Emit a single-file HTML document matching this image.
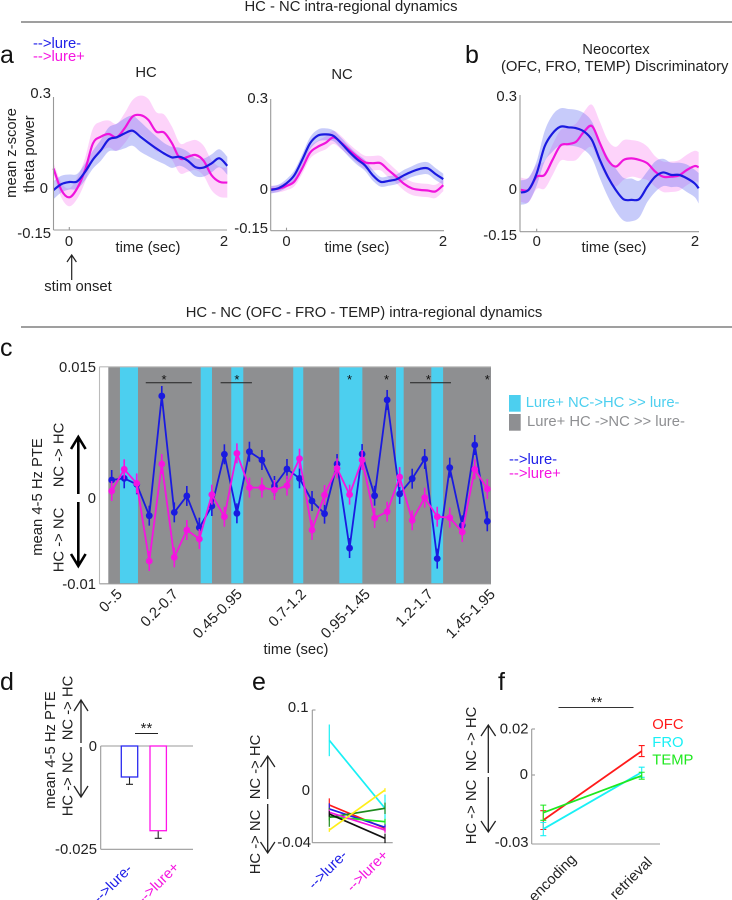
<!DOCTYPE html>
<html lang="en">
<head>
<meta charset="utf-8">
<title>HC - NC intra-regional dynamics</title>
<style>
html,body{margin:0;padding:0;background:#fff;width:732px;height:900px;overflow:hidden}
svg{display:block;filter:blur(.3px)}
text{font-family:"Liberation Sans",sans-serif;font-size:14.8px;fill:#222}
.e{text-anchor:end}.m{text-anchor:middle}
.pl{font-size:25px;fill:#111}
.bl{fill:#2020e8}.mg{fill:#f514e0}
</style>
</head>
<body>
<svg id="fig" xmlns="http://www.w3.org/2000/svg" width="732" height="900" viewBox="0 0 732 900">
<g id="layer-marks"></g>

<g >
<text x="351" y="11" class="m">HC - NC intra-regional dynamics</text>
<line x1="21" x2="732" y1="22" y2="22" stroke="#666" stroke-width="1.2"/>
<text x="364" y="317" class="m">HC - NC (OFC - FRO - TEMP) intra-regional dynamics</text>
<line x1="21" x2="732" y1="327" y2="327" stroke="#666" stroke-width="1.2"/>
</g>

<g>
<text x="0" y="63" class="pl">a</text>
<text x="465" y="63" class="pl">b</text>
<text x="0" y="356" class="pl">c</text>
<text x="0" y="690" class="pl">d</text>
<text x="252" y="690" class="pl">e</text>
<text x="498" y="690" class="pl">f</text>
</g>

<g>
<text x="33" y="48" class="bl">--&gt;lure-</text>
<text x="33" y="61" class="mg">--&gt;lure+</text>
<text x="146" y="77" class="m">HC</text>
<text x="342" y="79" class="m">NC</text>
<text transform="translate(16,153) rotate(-90)" class="m">mean z-score</text>
<text transform="translate(34,154) rotate(-90)" class="m">theta power</text>
<text x="51" y="98" class="e">0.3</text>
<text x="48" y="193" class="e">0</text>
<text x="51" y="238" class="e">-0.15</text>
<text x="69" y="246" class="m">0</text>
<text x="224" y="246" class="m">2</text>
<text x="148" y="252" class="m">time (sec)</text>
<text x="78" y="291" class="m">stim onset</text>
<path d="M71.7 280V256M67 262l4.7-7 4.7 7" fill="none" stroke="#222" stroke-width="1.2"/>
<text x="268" y="103" class="e">0.3</text>
<text x="268" y="194" class="e">0</text>
<text x="268" y="233" class="e">-0.15</text>
<text x="286.5" y="246" class="m">0</text>
<text x="443" y="246" class="m">2</text>
<text x="357" y="252" class="m">time (sec)</text>
</g>

<g>
<text x="616" y="54" class="m">Neocortex</text>
<text x="501" y="71">(OFC, FRO, TEMP) Discriminatory</text>
<text x="517" y="101" class="e">0.3</text>
<text x="517" y="194" class="e">0</text>
<text x="517" y="240" class="e">-0.15</text>
<text x="536.7" y="246" class="m">0</text>
<text x="695" y="246" class="m">2</text>
<text x="614" y="252" class="m">time (sec)</text>
</g>

<g>
<text x="96" y="372" class="e">0.015</text>
<text x="96" y="503" class="e">0</text>
<text x="96" y="589" class="e">-0.01</text>
<text transform="translate(42,497) rotate(-90)" class="m">mean 4-5 Hz PTE</text>
<text transform="translate(63.5,455) rotate(-90)" class="m">NC -&gt; HC</text>
<text transform="translate(63.5,540) rotate(-90)" class="m">HC -&gt; NC</text>
<path d="M78.3 494V437M71 449l7.3-12 7.3 12" fill="none" stroke="#000" stroke-width="2.6"/>
<path d="M78.3 502V566M71 554l7.3 12 7.3-12" fill="none" stroke="#000" stroke-width="2.6"/>
<text transform="translate(123,595) rotate(-45)" class="e">0-.5</text>
<text transform="translate(179,595) rotate(-45)" class="e">0.2-0.7</text>
<text transform="translate(243,595) rotate(-45)" class="e">0.45-0.95</text>
<text transform="translate(307,595) rotate(-45)" class="e">0.7-1.2</text>
<text transform="translate(371,595) rotate(-45)" class="e">0.95-1.45</text>
<text transform="translate(434,595) rotate(-45)" class="e">1.2-1.7</text>
<text transform="translate(496,595) rotate(-45)" class="e">1.45-1.95</text>
<text x="296" y="654" class="m">time (sec)</text>
<rect x="509" y="395" width="11.7" height="16.7" fill="#4ccfef"/>
<rect x="509" y="414" width="11.7" height="16.7" fill="#8e8f92"/>
<text x="525.7" y="407" style="fill:#4ccfef">Lure+ NC-&gt;HC &gt;&gt; lure-</text>
<text x="527" y="426" style="fill:#8e8f92">Lure+ HC -&gt;NC &gt;&gt; lure-</text>
<text x="509" y="464" class="bl">--&gt;lure-</text>
<text x="509" y="478" class="mg">--&gt;lure+</text>
</g>

<g>
<text x="97" y="751" class="e">0</text>
<text x="97" y="854" class="e">-0.025</text>
<text transform="translate(55,750) rotate(-90)" class="m">mean 4-5 Hz PTE</text>
<text transform="translate(72.5,708) rotate(-90)" class="m">NC -&gt; HC</text>
<text transform="translate(72.5,784) rotate(-90)" class="m">HC -&gt; NC</text>
<path d="M81 743V701M74 711l7-11 7 11" fill="none" stroke="#222" stroke-width="1.3"/>
<path d="M81 747V796M74 786l7 11 7-11" fill="none" stroke="#222" stroke-width="1.3"/>
<text x="146.5" y="733" class="m" style="font-size:15px">**</text>
<line x1="135" x2="158" y1="733.5" y2="733.5" stroke="#222"/>
<text transform="translate(133,870) rotate(-45)" class="e bl">--&gt;lure-</text>
<text transform="translate(180,868) rotate(-45)" class="e mg">--&gt;lure+</text>
</g>

<g>
<text x="308.5" y="712" class="e">0.1</text>
<text x="310" y="795" class="e">0</text>
<text x="311" y="847" class="e">-0.04</text>
<text transform="translate(260,767) rotate(-90)" class="m">NC -&gt; HC</text>
<text transform="translate(260,842) rotate(-90)" class="m">HC -&gt; NC</text>
<path d="M267.7 799V757M260.5 767l7.2-11 7.2 11" fill="none" stroke="#222" stroke-width="1.3"/>
<path d="M267.7 804V852M260.5 842l7.2 11 7.2-11" fill="none" stroke="#222" stroke-width="1.3"/>
<text transform="translate(348,856) rotate(-45)" class="e bl">--&gt;lure-</text>
<text transform="translate(389,856) rotate(-45)" class="e mg">--&gt;lure+</text>
</g>

<g>
<text x="528.5" y="733.5" class="e">0.02</text>
<text x="528" y="779" class="e">0</text>
<text x="528.5" y="847" class="e">-0.03</text>
<text transform="translate(476,739) rotate(-90)" class="m">NC -&gt; HC</text>
<text transform="translate(476,812) rotate(-90)" class="m">HC -&gt; NC</text>
<path d="M488.3 773V726M481 736l7.3-11 7.3 11" fill="none" stroke="#222" stroke-width="1.3"/>
<path d="M488.3 777V831M481 821l7.3 11 7.3-11" fill="none" stroke="#222" stroke-width="1.3"/>
<text x="596.5" y="707" class="m" style="font-size:15px">**</text>
<line x1="558.5" x2="633.5" y1="707.5" y2="707.5" stroke="#333"/>
<text x="652.3" y="729" style="fill:#ff1a1a">OFC</text>
<text x="652.3" y="747" style="fill:#19f0f5">FRO</text>
<text x="652.3" y="764.5" style="fill:#1ee81e">TEMP</text>
<text transform="translate(577,860) rotate(-45)" class="e">encoding</text>
<text transform="translate(653,863) rotate(-45)" class="e">retrieval</text>
</g>
</svg>

<script>
/* ---------- panels a / b : theta power time courses ---------- */
const timeAB = [-0.2,-0.1,0,0.1,0.2,0.3,0.4,0.5,0.6,0.7,0.8,0.9,1,1.1,1.2,1.3,1.4,1.5,1.6,1.7,1.8,1.9,2];
const timeB = [-0.2,-0.1,0,0.1,0.2,0.3,0.4,0.5,0.6,0.7,0.8,0.9,1,1.1,1.2,1.3,1.4,1.5,1.6,1.7,1.8,1.9,2,2.05];

const hcLureMinus = [-0.008,0.012,0.019,0.021,0.053,0.094,0.125,0.161,0.168,0.181,0.19,0.17,0.15,0.131,0.114,0.101,0.103,0.09,0.068,0.067,0.081,0.098,0.073];
const hcLureMinusErr = [0.03,0.028,0.025,0.025,0.028,0.03,0.035,0.04,0.045,0.05,0.05,0.05,0.045,0.04,0.035,0.035,0.03,0.03,0.03,0.03,0.03,0.03,0.03];
const hcLurePlus = [0.064,-0.008,-0.032,-0.002,0.059,0.148,0.17,0.179,0.168,0.198,0.237,0.242,0.226,0.187,0.184,0.148,0.098,0.103,0.109,0.09,0.042,0.02,0.017];
const hcLurePlusErr = [0.02,0.025,0.03,0.035,0.04,0.05,0.05,0.045,0.045,0.05,0.055,0.065,0.07,0.065,0.06,0.055,0.05,0.05,0.05,0.05,0.05,0.05,0.05];

const ncLureMinus = [-0.002,0.004,0.02,0.047,0.098,0.153,0.179,0.183,0.178,0.153,0.125,0.1,0.08,0.047,0.025,0.028,0.033,0.047,0.059,0.068,0.07,0.051,0.034];
const ncLureMinusErr = [0.012,0.012,0.014,0.016,0.018,0.02,0.02,0.02,0.018,0.018,0.018,0.018,0.018,0.018,0.016,0.016,0.016,0.018,0.018,0.02,0.02,0.02,0.018];
const ncLurePlus = [0,0.002,0.011,0.026,0.07,0.122,0.142,0.155,0.173,0.155,0.131,0.109,0.09,0.087,0.087,0.064,0.042,0.018,0.003,-0.002,-0.004,-0.007,0.014];
const ncLurePlusErr = [0.012,0.012,0.014,0.016,0.018,0.02,0.02,0.022,0.022,0.022,0.02,0.02,0.022,0.024,0.024,0.024,0.022,0.022,0.022,0.022,0.022,0.022,0.02];

const bLureMinus = [-0.014,-0.004,0.049,0.137,0.18,0.202,0.2,0.197,0.186,0.158,0.093,0.038,-0.005,-0.036,-0.038,-0.035,0.005,0.038,0.052,0.044,0.044,0.033,0.016,0];
const bLureMinusErr = [0.04,0.04,0.04,0.05,0.06,0.06,0.06,0.06,0.06,0.06,0.06,0.065,0.07,0.07,0.07,0.06,0.05,0.05,0.045,0.04,0.04,0.045,0.045,0.05];
const bLurePlus = [-0.005,-0.005,0.038,0.044,0.093,0.14,0.145,0.153,0.186,0.204,0.148,0.093,0.071,0.093,0.098,0.093,0.082,0.055,0.038,0.038,0.042,0.06,0.073,0.069];
const bLurePlusErr = [0.04,0.04,0.04,0.045,0.05,0.05,0.055,0.06,0.065,0.07,0.07,0.065,0.065,0.065,0.06,0.06,0.055,0.05,0.05,0.05,0.05,0.05,0.05,0.05];

/* ---------- panel c : PTE per time bin (units of 1e-3) ---------- */
const pteBins = [0,1,2,3,4,5,6,7,8,9,10,11,12,13,14,15,16,17,18,19,20,21,22,23,24,25,26,27,28,29,30];
const pteLureMinus = [1.96,2.15,1.46,-2.15,11.64,-1.77,0.12,-3.53,-1.04,4.92,-1.88,5.22,4.26,1.27,3.23,2.15,-0.46,-1.92,3.8,-5.88,4.95,0.15,11.18,0.35,2.11,4.38,-7.1,3.38,-3.26,5.99,-2.8];
const pteLurePlus = [0.69,3.19,1.57,-7.37,3.8,-6.95,-3.8,-4.84,0.27,-2.27,5.03,1.08,1.08,0.81,1.31,4.42,-3.8,0.23,3.3,0.27,4.26,-2.42,-1.69,2.3,-2.69,-0.08,-2.27,-2.38,-4.03,3.19,0.92];
const pteErr = [1.15];
const cyanBandStart = [0.66,7.11,9.55,14.5,18.18,22.71,25.53];
const cyanBandEnd = [2.1,8.01,10.51,15.3,20.02,23.32,26.47];
const sigBarStart = [2.72,8.7,23.83];
const sigBarEnd = [6.4,11.2,27.1];
const sigStarBins = [4.18,10,19,21.95,25.3,30];

/* ---------- panel d : bars ---------- */
const dCategories = ['lure-minus','lure-plus'];
const dValues = [-0.0075,-0.0205];
const dErrors = [0.00177,0.00184];

/* ---------- panel e : paired lines per region ---------- */
const eSeriesNames = ['cyan','red','blue','lime','dark-green','magenta','black','yellow'];
const eLeft = [0.068,-0.0002,-0.0044,-0.0125,-0.0132,-0.0079,-0.0097,-0.0266];
const eRight = [-0.0037,-0.0248,-0.0237,-0.0178,-0.0037,-0.0266,-0.0354,0.0156];
const eLeftErr = [0.0167,0.007,0.006,0.004,0.01,0.003,0.003,0.002];
const eRightErr = [0.0145,0.004,0.004,0.003,0.006,0.003,0.005,0.002];

/* ---------- panel f : encoding vs retrieval ---------- */
const fSeriesNames = ['ofc','fro','temp'];
const fEncoding = [-0.0196,-0.0235,-0.0164];
const fRetrieval = [0.0104,0.0012,-0.0003];
const fEncodingErr = [0.0041,0.0029,0.0033];
const fRetrievalErr = [0.0024,0.0022,0.0015];

const NS = 'http://www.w3.org/2000/svg';
const marks = document.getElementById('layer-marks');
function mk(tag, attrs, parent) {
  const el = document.createElementNS(NS, tag);
  for (const k in attrs) el.setAttribute(k, attrs[k]);
  (parent || marks).appendChild(el);
  return el;
}
function spline(pts) {
  let d = 'M' + pts[0][0].toFixed(2) + ' ' + pts[0][1].toFixed(2);
  for (let i = 0; i < pts.length - 1; i++) {
    const p0 = pts[Math.max(i - 1, 0)], p1 = pts[i], p2 = pts[i + 1], p3 = pts[Math.min(i + 2, pts.length - 1)];
    d += 'C' + (p1[0] + (p2[0] - p0[0]) / 6).toFixed(2) + ' ' + (p1[1] + (p2[1] - p0[1]) / 6).toFixed(2) + ' '
      + (p2[0] - (p3[0] - p1[0]) / 6).toFixed(2) + ' ' + (p2[1] - (p3[1] - p1[1]) / 6).toFixed(2) + ' '
      + p2[0].toFixed(2) + ' ' + p2[1].toFixed(2);
  }
  return d;
}
function axisL(name, x1, y1, x2, y2, color) {
  const l = mk('line', {x1: x1, y1: y1, x2: x2, y2: y2, stroke: color || '#999', 'stroke-width': 1.1});
  
  
}
function band(name, times, vals, errs, sx, sy, fill) {
  const up = times.map((t, i) => [sx(t), sy(vals[i] + errs[i])]);
  const dn = times.map((t, i) => [sx(t), sy(vals[i] - errs[i])]).reverse();
  const d = spline(up) + 'L' + spline(dn).slice(1) + 'Z';
  const p = mk('path', {d: d, fill: fill, stroke: 'none'});
  
  
}
function curve(name, times, vals, sx, sy, color) {
  const d = spline(times.map((t, i) => [sx(t), sy(vals[i])]));
  const p = mk('path', {d: d, fill: 'none', stroke: color, 'stroke-width': 2.2});
  
  
}
const BLUE = '#1a1ae0', MAG = '#f014dc';
const BLUEB = 'rgba(100,110,240,.36)', MAGB = 'rgba(250,110,240,.3)';

function timePanel(prefix, times, minus, minusErr, plus, plusErr, x0, xs, y0, ys, axX, axTop, axBottom, axRight) {
  const sx = t => x0 + xs * t;
  const sy = v => y0 - ys * v;
  band(prefix + '-lure-plus-band', times, plus, plusErr, sx, sy, MAGB);
  band(prefix + '-lure-minus-band', times, minus, minusErr, sx, sy, BLUEB);
  curve(prefix + '-lure-plus-line', times, plus, sx, sy, MAG);
  curve(prefix + '-lure-minus-line', times, minus, sx, sy, BLUE);
  axisL(prefix + '-y-axis', axX, axTop, axX, axBottom);
  axisL(prefix + '-x-axis', axX, axBottom, axRight, axBottom);
  axisL(prefix + '-x-tick-0', sx(0), axBottom, sx(0), axBottom - 3);
}
timePanel('hc', timeAB, hcLureMinus, hcLureMinusErr, hcLurePlus, hcLurePlusErr, 69.3, 79, 187.7, 300, 53.5, 97, 230, 227);
timePanel('nc', timeAB, ncLureMinus, ncLureMinusErr, ncLurePlus, ncLurePlusErr, 286.5, 78.4, 189.3, 300, 270.7, 99, 230.7, 444);
timePanel('b', timeB, bLureMinus, bLureMinusErr, bLurePlus, bLurePlusErr, 536.7, 79, 188.3, 305, 520, 95, 231.7, 699);

/* panel c */
(function () {
  const sx = i => 111.7 + 12.52 * i;
  const sy = v => 497 - 8.68 * v;
  const bg = mk('rect', {x: 108.3, y: sy(15), width: 382.7, height: sy(-10) - sy(15), fill: '#8e8f91'});
  
  
  cyanBandStart.forEach((s, i) => {
    const r = mk('rect', {x: sx(s), y: sy(15), width: sx(cyanBandEnd[i]) - sx(s), height: sy(-10) - sy(15), fill: '#4ccfef'});
    
    
  });
  axisL('c-y-axis', 99.5, sy(15), 99.5, sy(-10), '#bbb');
  axisL('c-top-axis', 99.5, sy(15), 491, sy(15), '#bbb');
  axisL('c-x-axis', 99.5, sy(-10), 491, sy(-10), '#999');
  sigBarStart.forEach((s, i) => {
    const l = mk('line', {x1: sx(s), x2: sx(sigBarEnd[i]), y1: 382.7, y2: 382.7, stroke: '#222', 'stroke-width': 1});
    
    
  });
  sigStarBins.forEach(s => {
    const t = mk('text', {x: sx(s), y: 384, 'text-anchor': 'middle', style: 'font-size:13px;fill:#111'});
    t.textContent = '*';
    
    
  });
  [[pteLureMinus, BLUE, 'lure-minus'], [pteLurePlus, '#f514e0', 'lure-plus']].forEach(cfg => {
    const vals = cfg[0], color = cfg[1], id = cfg[2];
    const line = mk('polyline', {points: pteBins.map((b, i) => sx(b).toFixed(2) + ',' + sy(vals[i]).toFixed(2)).join(' '), fill: 'none', stroke: color, 'stroke-width': 1.8});
    
    
    pteBins.forEach((b, i) => {
      const e = mk('line', {x1: sx(b), x2: sx(b), y1: sy(vals[i] + pteErr[0]), y2: sy(vals[i] - pteErr[0]), stroke: color, 'stroke-width': 1.6});
      
      
      const c = mk('circle', {cx: sx(b), cy: sy(vals[i]), r: 3.4, fill: color});
      
      
    });
  });
})();

/* panel d */
(function () {
  const sy = v => 746 + (-v) * 4132;
  const barX = [121.3, 150];
  const colors = ['#2a2af0', '#ff14e8'];
  axisL('d-y-axis', 100.7, sy(0), 100.7, sy(-0.025));
  axisL('d-zero-line', 100.7, sy(0), 193, sy(0));
  axisL('d-x-axis', 100.7, sy(-0.025), 193, sy(-0.025));
  dValues.forEach((v, i) => {
    const cx = barX[i] + 8.2;
    const e = mk('path', {d: 'M' + cx + ' ' + sy(v) + 'V' + sy(v - dErrors[i]) + 'M' + (cx - 3.5) + ' ' + sy(v - dErrors[i]) + 'H' + (cx + 3.5), fill: 'none', stroke: '#222', 'stroke-width': 1.1});
    
    
    const r = mk('rect', {x: barX[i], y: sy(0), width: 16.4, height: sy(v) - sy(0), fill: '#fff', stroke: colors[i], 'stroke-width': 1.3});
    
    
  });
})();

/* panel e */
(function () {
  const sy = v => 710 + (0.1 - v) * 948;
  const xL = 329.3, xR = 385;
  const colors = ['#19f0f5', '#ff1a1a', '#2020e8', '#1ee81e', '#1f8a1f', '#f514e0', '#111', '#ffee1a'];
  axisL('e-y-axis', 312.3, 710, 312.3, 842.7);
  axisL('e-x-axis', 312.3, 842.7, 392.7, 842.7);
  axisL('e-y-tick', 312.3, 710, 315.5, 710);
  eSeriesNames.forEach((n, i) => {
    const ea = mk('line', {x1: xL, x2: xL, y1: sy(eLeft[i] + eLeftErr[i]), y2: sy(eLeft[i] - eLeftErr[i]), stroke: colors[i], 'stroke-width': 1.2});
    
    
    const eb = mk('line', {x1: xR, x2: xR, y1: sy(eRight[i] + eRightErr[i]), y2: sy(eRight[i] - eRightErr[i]), stroke: colors[i], 'stroke-width': 1.2});
    
    
    const l = mk('line', {x1: xL, x2: xR, y1: sy(eLeft[i]), y2: sy(eRight[i]), stroke: colors[i], 'stroke-width': 1.7});
    
    
  });
})();

/* panel f */
(function () {
  const sy = v => 775 - v * 2300;
  const xL = 543.3, xR = 641.7;
  const colors = ['#ff1a1a', '#19f0f5', '#1ee81e'];
  axisL('f-y-axis', 531.7, 729, 531.7, 844);
  axisL('f-x-axis', 531.7, 844, 660, 844);
  axisL('f-y-tick-top', 531.7, 729, 535, 729);
  axisL('f-y-tick-zero', 531.7, sy(0), 535, sy(0));
  function cap(x, v, e) {
    return 'M' + x + ' ' + sy(v + e) + 'V' + sy(v - e) + 'M' + (x - 3) + ' ' + sy(v + e) + 'H' + (x + 3) + 'M' + (x - 3) + ' ' + sy(v - e) + 'H' + (x + 3);
  }
  fSeriesNames.forEach((n, i) => {
    const ea = mk('path', {d: cap(xL, fEncoding[i], fEncodingErr[i]) + cap(xR, fRetrieval[i], fRetrievalErr[i]), fill: 'none', stroke: colors[i], 'stroke-width': 1.1});
    
    
    const l = mk('line', {x1: xL, x2: xR, y1: sy(fEncoding[i]), y2: sy(fRetrieval[i]), stroke: colors[i], 'stroke-width': 1.8});
    
    
  });
})();
</script>
</body>
</html>
